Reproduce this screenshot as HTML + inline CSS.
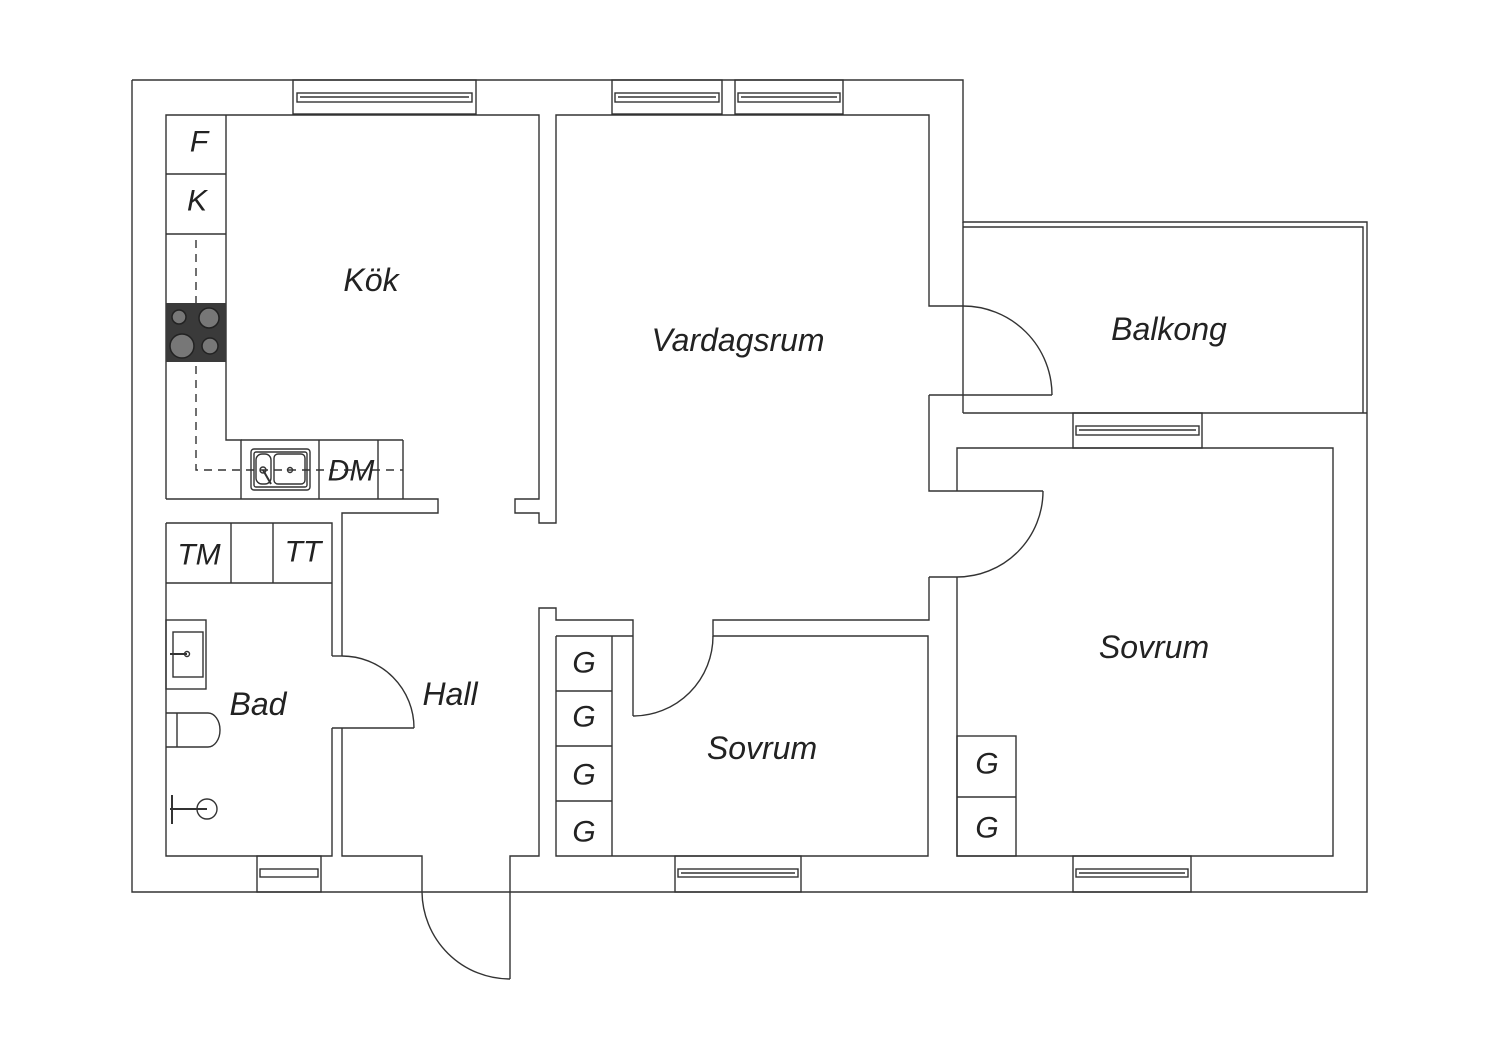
<!DOCTYPE html>
<html><head><meta charset="utf-8"><style>
html,body{margin:0;padding:0;background:#fff;}
svg{display:block;}
text{font-family:"Liberation Sans",sans-serif;font-style:italic;fill:#222;text-anchor:middle;dominant-baseline:central;}
</style></head><body>
<svg width="1500" height="1060" viewBox="0 0 1500 1060" xmlns="http://www.w3.org/2000/svg">
<g fill="none" stroke="#333" stroke-width="1.4">
<polyline points="132,80 963,80 963,222 1367,222 1367,892 132,892 132,80"/>
<polyline points="963,227 1363,227 1363,413"/>
<line x1="963" y1="222" x2="963" y2="413"/>
<line x1="963" y1="413" x2="1367" y2="413"/>
<rect x="293" y="80" width="183" height="34"/><rect x="297" y="93" width="175" height="9"/><line x1="300" y1="97" x2="469" y2="97"/>
<rect x="612" y="80" width="110" height="34"/><rect x="615" y="93" width="104" height="9"/><line x1="618" y1="97" x2="716" y2="97"/>
<rect x="735" y="80" width="108" height="34"/><rect x="738" y="93" width="102" height="9"/><line x1="741" y1="97" x2="837" y2="97"/>
<rect x="1073" y="413" width="129" height="35"/><rect x="1076" y="426" width="123" height="9"/><line x1="1079" y1="430" x2="1196" y2="430"/>
<rect x="257" y="856" width="64" height="36"/><rect x="260" y="869" width="58" height="8"/>
<rect x="675" y="856" width="126" height="36"/><rect x="678" y="869" width="120" height="8"/><line x1="681" y1="873" x2="795" y2="873"/>
<rect x="1073" y="856" width="118" height="36"/><rect x="1076" y="869" width="112" height="8"/><line x1="1079" y1="873" x2="1185" y2="873"/>
<polyline points="166,499 166,115 539,115 539,499 515,499 515,513 539,513 539,523 556,523 556,115 929,115 929,306 963,306"/>
<polyline points="166,499 438,499 438,513 342,513 342,656"/>
<line x1="166" y1="174" x2="226" y2="174"/><line x1="166" y1="234" x2="226" y2="234"/>
<polyline points="226,115 226,440 241,440 241,499"/>
<line x1="241" y1="440" x2="403" y2="440"/><line x1="403" y1="440" x2="403" y2="499"/>
<line x1="319" y1="440" x2="319" y2="499"/><line x1="378" y1="440" x2="378" y2="499"/>
<path d="M196 240 V470 H403" stroke-dasharray="8,6"/>
<rect x="251" y="449" width="59" height="41" rx="3"/><rect x="254" y="452" width="53" height="35" rx="2"/>
<rect x="256" y="454" width="15" height="30" rx="6"/><rect x="274" y="454" width="31" height="30" rx="4"/>
<circle cx="263" cy="470" r="3"/><circle cx="290" cy="470" r="2.5"/><line x1="263" y1="470" x2="271" y2="484" stroke-width="2"/>
<polyline points="166,523 166,856 332,856 332,728"/>
<polyline points="332,656 332,523 166,523"/>
<line x1="166" y1="583" x2="332" y2="583"/><line x1="231" y1="523" x2="231" y2="583"/><line x1="273" y1="523" x2="273" y2="583"/>
<rect x="166" y="620" width="40" height="69"/><rect x="173" y="632" width="30" height="45"/>
<line x1="170" y1="654" x2="187" y2="654" stroke-width="2"/><circle cx="187" cy="654" r="2.5"/>
<path d="M166 713 H208 A12 17 0 0 1 208 747 H166"/><line x1="177" y1="713" x2="177" y2="747"/>
<circle cx="207" cy="809" r="10"/><line x1="170" y1="809" x2="207" y2="809" stroke-width="2"/><line x1="172" y1="795" x2="172" y2="824" stroke-width="2"/>
<line x1="332" y1="656" x2="342" y2="656"/>
<polyline points="332,728 414,728"/>
<path d="M342 656 A72 72 0 0 1 414 728"/>
<polyline points="342,728 342,856 422,856 422,892"/>
<path d="M422 892 A88 88 0 0 0 510 979"/>
<polyline points="510,979 510,856 539,856 539,608 556,608 556,620 633,620 633,716"/>
<path d="M713 636 A80 80 0 0 1 633 716"/>
<polyline points="556,636 633,636"/>
<polyline points="556,636 556,856 928,856 928,636 713,636 713,620 929,620 929,577"/>
<line x1="612" y1="636" x2="612" y2="856"/>
<line x1="556" y1="691" x2="612" y2="691"/><line x1="556" y1="746" x2="612" y2="746"/><line x1="556" y1="801" x2="612" y2="801"/>
<polyline points="929,395 1052,395"/>
<path d="M963 306 A89 89 0 0 1 1052 395"/>
<polyline points="929,395 929,491 1043,491"/>
<path d="M1043 491 A86 86 0 0 1 957 577"/>
<line x1="929" y1="577" x2="957" y2="577"/>
<polyline points="957,491 957,448 1333,448 1333,856 957,856 957,577"/>
<rect x="957" y="736" width="59" height="120"/><line x1="957" y1="797" x2="1016" y2="797"/>
</g>
<rect x="166" y="303" width="60" height="59" fill="#3a3a3a"/>
<g fill="#777" stroke="#222" stroke-width="1.5">
<circle cx="179" cy="317" r="7"/><circle cx="209" cy="318" r="10"/>
<circle cx="182" cy="346" r="12"/><circle cx="210" cy="346" r="8"/>
</g>
<g font-size="32">
<text x="371" y="280">Kök</text>
<text x="738" y="340">Vardagsrum</text>
<text x="1169" y="329">Balkong</text>
<text x="1154" y="647">Sovrum</text>
<text x="762" y="748">Sovrum</text>
<text x="450" y="694">Hall</text>
<text x="258" y="704">Bad</text>
</g>
<g font-size="30">
<text x="199" y="142">F</text><text x="197" y="201">K</text>
<text x="351" y="471">DM</text><text x="199" y="555">TM</text><text x="303" y="552">TT</text>
<text x="584" y="663">G</text><text x="584" y="717">G</text><text x="584" y="775">G</text><text x="584" y="832">G</text>
<text x="987" y="764">G</text><text x="987" y="828">G</text>
</g>
</svg>
</body></html>
